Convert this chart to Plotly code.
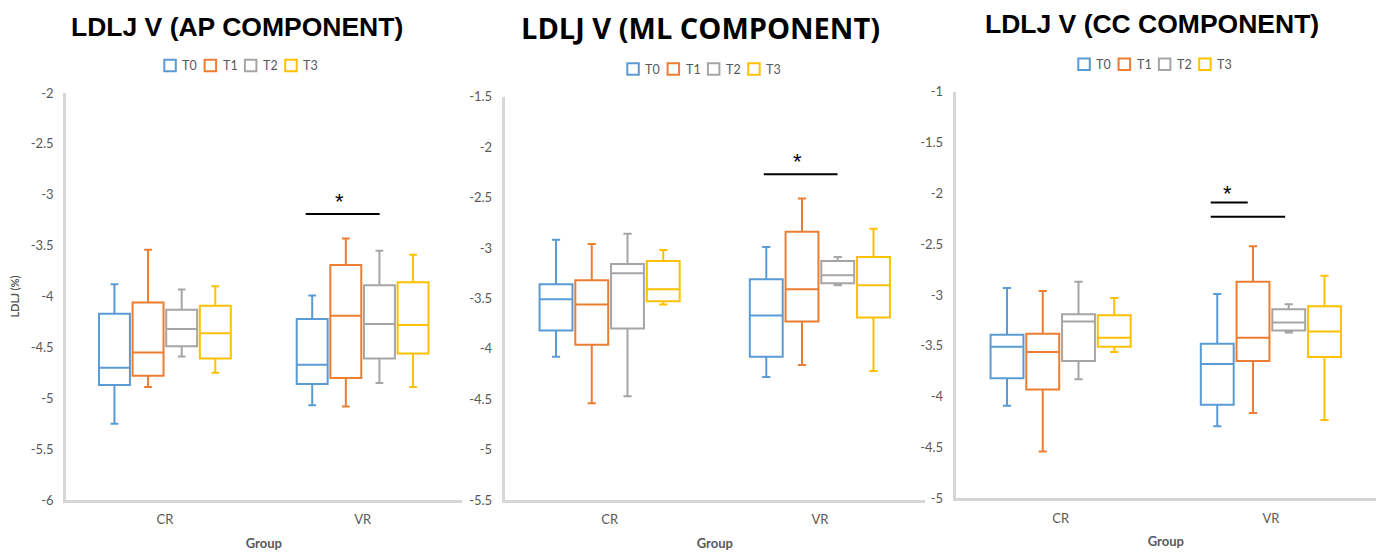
import plotly.graph_objects as go

# page body has an 8px margin: figure is placed at (8, 8)
OX, OY = 8, 8
W, H = 1376, 544

GROUPS = ["CR", "VR"]
SERIES = ["T0", "T1", "T2", "T3"]
COLORS = ["#5B9BD5", "#ED7D31", "#A5A5A5", "#FFC000"]

# (lower whisker, Q1, median, Q3, upper whisker) for CR, VR
AP_T0 = [(-5.25, -4.87, -4.70, -4.17, -3.88), (-5.07, -4.86, -4.67, -4.22, -3.99)]
AP_T1 = [(-4.89, -4.78, -4.55, -4.06, -3.54), (-5.08, -4.80, -4.19, -3.69, -3.43)]
AP_T2 = [(-4.59, -4.49, -4.32, -4.13, -3.93), (-4.85, -4.61, -4.27, -3.89, -3.55)]
AP_T3 = [(-4.75, -4.61, -4.36, -4.09, -3.90), (-4.89, -4.56, -4.28, -3.86, -3.59)]

ML_T0 = [(-4.08, -3.82, -3.51, -3.36, -2.92), (-4.28, -4.08, -3.67, -3.31, -2.99)]
ML_T1 = [(-4.54, -3.96, -3.56, -3.32, -2.96), (-4.16, -3.73, -3.41, -2.84, -2.51)]
ML_T2 = [(-4.47, -3.80, -3.25, -3.16, -2.86), (-3.37, -3.35, -3.27, -3.13, -3.09)]
ML_T3 = [(-3.56, -3.53, -3.41, -3.13, -3.02), (-4.22, -3.69, -3.37, -3.09, -2.81)]

CC_T0 = [(-4.09, -3.82, -3.51, -3.39, -2.93), (-4.29, -4.08, -3.68, -3.48, -2.99)]
CC_T1 = [(-4.54, -3.93, -3.56, -3.38, -2.96), (-4.16, -3.65, -3.42, -2.87, -2.52)]
CC_T2 = [(-3.83, -3.65, -3.26, -3.19, -2.87), (-3.37, -3.35, -3.27, -3.14, -3.09)]
CC_T3 = [(-3.56, -3.51, -3.42, -3.20, -3.03), (-4.23, -3.61, -3.36, -3.11, -2.81)]

AP_TICKS = [-6, -5.5, -5, -4.5, -4, -3.5, -3, -2.5, -2]
ML_TICKS = [-5.5, -5, -4.5, -4, -3.5, -3, -2.5, -2, -1.5]
CC_TICKS = [-5, -4.5, -4, -3.5, -3, -2.5, -2, -1.5, -1]

# significance bars: (x0, x1, y) in data units, asterisk (x, y)
AP_SIG = [(0.712, 1.086, -3.19)]
AP_STAR = [(0.884, -3.07)]
ML_SIG = [(0.733, 1.084, -2.27)]
ML_STAR = [(0.895, -2.145)]
CC_SIG = [(0.714, 0.890, -2.09), (0.714, 1.068, -2.23)]
CC_STAR = [(0.792, -2.006)]

TITLES = ["LDLJ V (AP COMPONENT)", "LDLJ V (ML COMPONENT)", "LDLJ V (CC COMPONENT)"]

PANELS = [
    dict(title=TITLES[0], data=[AP_T0, AP_T1, AP_T2, AP_T3], ticks=AP_TICKS,
         sig=AP_SIG, star=AP_STAR,
         xdom=(66, 461.5), ybot=500, ytop=93, tx=236.5, ty=27,
         tfont=dict(family="Liberation Sans", size=26.5, color="#000000"),
         legx=164.3, legy=65.5, ytitle=True),
    dict(title=TITLES[1], data=[ML_T0, ML_T1, ML_T2, ML_T3], ticks=ML_TICKS,
         sig=ML_SIG, star=ML_STAR,
         xdom=(504.5, 925), ybot=500, ytop=96.7, tx=700, ty=28,
         tfont=dict(family="Open Sans", size=29, color="#000000"),
         legx=627.3, legy=69, ytitle=False),
    dict(title=TITLES[2], data=[CC_T0, CC_T1, CC_T2, CC_T3], ticks=CC_TICKS,
         sig=CC_SIG, star=CC_STAR,
         xdom=(955.5, 1376), ybot=498.3, ytop=91.7, tx=1151.5, ty=24.5,
         tfont=dict(family="Liberation Sans", size=26.5, color="#000000"),
         legx=1078.3, legy=64.3, ytitle=False),
]

AXIS_COLOR = "#D6D6D6"
TEXT_COLOR = "#595959"
TICK_FONT = dict(family="Lato", size=13, color=TEXT_COLOR)


def px(x):
    return (x - OX) / W


def py(y):
    return 1 - (y - OY) / H


fig = go.Figure()
shapes = []
annotations = []
layout = {}

for i, p in enumerate(PANELS):
    n = "" if i == 0 else str(i + 1)
    xref, yref = "x" + n, "y" + n
    for s, (name, color) in enumerate(zip(SERIES, COLORS)):
        stats = p["data"][s]
        fig.add_trace(go.Box(
            x=GROUPS,
            lowerfence=[v[0] for v in stats],
            q1=[v[1] for v in stats],
            median=[v[2] for v in stats],
            q3=[v[3] for v in stats],
            upperfence=[v[4] for v in stats],
            name=name, xaxis=xref, yaxis=yref,
            alignmentgroup="panel%d" % i, offsetgroup=name,
            line=dict(color=color, width=2),
            fillcolor="rgba(255,255,255,0)",
            whiskerwidth=0.25, boxpoints=False,
            showlegend=False, hoverinfo="skip",
        ))
    x0, x1 = p["xdom"]
    layout["xaxis" + n] = dict(
        domain=[px(x0), px(x1)], anchor=yref, type="category",
        categoryorder="array", categoryarray=GROUPS, range=[-0.5, 1.5],
        showline=True, linecolor=AXIS_COLOR, linewidth=2.5, mirror=False,
        showgrid=False, zeroline=False, ticks="", tickfont=TICK_FONT,
        ticklabelstandoff=6,
        title=dict(text="Group", font=dict(family="Lato", size=13, color=TEXT_COLOR, weight="bold"),
                   standoff=13),
        automargin=False, fixedrange=True,
    )
    ticks = p["ticks"]
    layout["yaxis" + n] = dict(
        domain=[py(p["ybot"]), py(p["ytop"])], anchor=xref,
        range=[ticks[0], ticks[-1]], tickvals=ticks,
        ticktext=[f"{v:g}" for v in ticks],
        showline=True, linecolor=AXIS_COLOR, linewidth=2.5,
        showgrid=False, zeroline=False, ticks="", tickfont=TICK_FONT,
        ticklabelstandoff=7,
        title=dict(text="LDLJ (%)" if p["ytitle"] else "",
                   font=dict(family="Lato", size=11, color=TEXT_COLOR, weight="bold"),
                   standoff=14),
        automargin=False, fixedrange=True,
    )
    # title
    annotations.append(dict(text="<b>%s</b>" % p["title"], xref="paper", yref="paper",
                            x=px(p["tx"]), y=py(p["ty"]), xanchor="center", yanchor="middle",
                            showarrow=False, font=p["tfont"]))
    # legend
    for s, (name, color) in enumerate(zip(SERIES, COLORS)):
        lx = p["legx"] + s * 40.3
        ly = p["legy"]
        shapes.append(dict(type="rect", xref="paper", yref="paper",
                           x0=px(lx), x1=px(lx + 11.5),
                           y0=py(ly + 5.75), y1=py(ly - 5.75),
                           line=dict(color=color, width=2), fillcolor="rgba(0,0,0,0)"))
        annotations.append(dict(text=name, xref="paper", yref="paper",
                                x=px(lx + 16), y=py(ly), xanchor="left", yanchor="middle",
                                showarrow=False, font=dict(family="Lato", size=12.5, color=TEXT_COLOR)))
    # significance
    for (sx0, sx1, sy) in p["sig"]:
        shapes.append(dict(type="line", xref=xref, yref=yref, x0=sx0, x1=sx1, y0=sy, y1=sy,
                           line=dict(color="#000000", width=2)))
    for (ax, ay) in p["star"]:
        annotations.append(dict(text="*", xref=xref, yref=yref, x=ax, y=ay,
                                xanchor="center", yanchor="middle", showarrow=False,
                                font=dict(family="Liberation Sans", size=22, color="#000000")))

fig.update_layout(
    width=W, height=H, margin=dict(l=0, r=0, t=0, b=0),
    paper_bgcolor="white", plot_bgcolor="white",
    boxmode="group", boxgap=0.32, boxgroupgap=0.08,
    shapes=shapes, annotations=annotations, showlegend=False,
    **layout,
)

fig.write_html("out.html")
